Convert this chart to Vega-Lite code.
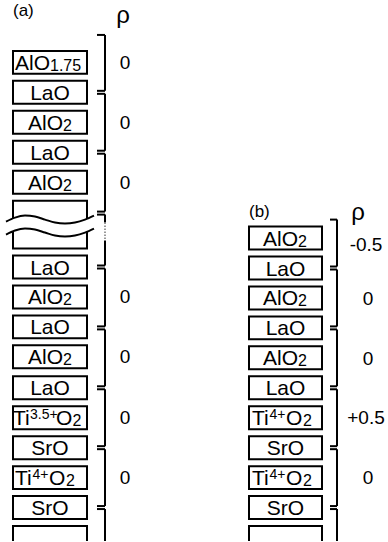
{
  "$schema": "https://vega.github.io/schema/vega-lite/v6.json",
  "width": 388,
  "height": 542,
  "autosize": {"type": "fit", "contains": "padding"},
  "padding": 0,
  "background": "white",
  "config": {"view": {"stroke": null}, "text": {"font": "Liberation Sans", "color": "black"}},
  "datasets": {
    "boxes": [
      {"panel": "a", "x": 13, "x2": 87, "y": 51, "y2": 74},
      {"panel": "a", "x": 13, "x2": 87, "y": 81, "y2": 104},
      {"panel": "a", "x": 13, "x2": 87, "y": 111, "y2": 134},
      {"panel": "a", "x": 13, "x2": 87, "y": 141, "y2": 164},
      {"panel": "a", "x": 13, "x2": 87, "y": 171, "y2": 194},
      {"panel": "a", "x": 13, "x2": 87, "y": 201, "y2": 249},
      {"panel": "a", "x": 13, "x2": 87, "y": 256, "y2": 279},
      {"panel": "a", "x": 13, "x2": 87, "y": 286, "y2": 309},
      {"panel": "a", "x": 13, "x2": 87, "y": 316, "y2": 339},
      {"panel": "a", "x": 13, "x2": 87, "y": 346, "y2": 369},
      {"panel": "a", "x": 13, "x2": 87, "y": 377, "y2": 400},
      {"panel": "a", "x": 13, "x2": 87, "y": 407, "y2": 430},
      {"panel": "a", "x": 13, "x2": 87, "y": 437, "y2": 460},
      {"panel": "a", "x": 13, "x2": 87, "y": 467, "y2": 490},
      {"panel": "a", "x": 13, "x2": 87, "y": 497, "y2": 520},
      {"panel": "a", "x": 13, "x2": 87, "y": 527, "y2": 560},
      {"panel": "b", "x": 249, "x2": 322, "y": 227, "y2": 250},
      {"panel": "b", "x": 249, "x2": 322, "y": 257, "y2": 280},
      {"panel": "b", "x": 249, "x2": 322, "y": 287, "y2": 310},
      {"panel": "b", "x": 249, "x2": 322, "y": 317, "y2": 340},
      {"panel": "b", "x": 249, "x2": 322, "y": 347, "y2": 370},
      {"panel": "b", "x": 249, "x2": 322, "y": 377, "y2": 400},
      {"panel": "b", "x": 249, "x2": 322, "y": 407, "y2": 430},
      {"panel": "b", "x": 249, "x2": 322, "y": 437, "y2": 460},
      {"panel": "b", "x": 249, "x2": 322, "y": 467, "y2": 490},
      {"panel": "b", "x": 249, "x2": 322, "y": 497, "y2": 520},
      {"panel": "b", "x": 249, "x2": 322, "y": 527, "y2": 560}
    ],
    "waves": [
      {"x": 6, "top": 222, "bottom": 235},
      {"x": 15, "top": 218, "bottom": 231},
      {"x": 25, "top": 216, "bottom": 229},
      {"x": 35, "top": 217, "bottom": 230},
      {"x": 45, "top": 220, "bottom": 233},
      {"x": 55, "top": 223, "bottom": 236},
      {"x": 65, "top": 224, "bottom": 237},
      {"x": 75, "top": 223, "bottom": 236},
      {"x": 85, "top": 220, "bottom": 233},
      {"x": 94, "top": 216, "bottom": 229}
    ],
    "ticks": [
      {"x": 97, "x2": 105, "y": 35},
      {"x": 97, "x2": 105, "y": 91},
      {"x": 97, "x2": 105, "y": 94},
      {"x": 97, "x2": 105, "y": 151},
      {"x": 97, "x2": 105, "y": 154},
      {"x": 97, "x2": 105, "y": 212},
      {"x": 97, "x2": 105, "y": 215},
      {"x": 97, "x2": 105, "y": 266},
      {"x": 97, "x2": 105, "y": 269},
      {"x": 97, "x2": 105, "y": 327},
      {"x": 97, "x2": 105, "y": 330},
      {"x": 97, "x2": 105, "y": 387},
      {"x": 97, "x2": 105, "y": 390},
      {"x": 97, "x2": 105, "y": 447},
      {"x": 97, "x2": 105, "y": 450},
      {"x": 97, "x2": 105, "y": 507},
      {"x": 97, "x2": 105, "y": 510},
      {"x": 330, "x2": 337, "y": 220},
      {"x": 330, "x2": 337, "y": 267},
      {"x": 330, "x2": 337, "y": 270},
      {"x": 330, "x2": 337, "y": 327},
      {"x": 330, "x2": 337, "y": 330},
      {"x": 330, "x2": 337, "y": 387},
      {"x": 330, "x2": 337, "y": 390},
      {"x": 330, "x2": 337, "y": 447},
      {"x": 330, "x2": 337, "y": 450},
      {"x": 330, "x2": 337, "y": 507},
      {"x": 330, "x2": 337, "y": 510}
    ],
    "verticals": [
      {"x": 105, "y": 35, "y2": 91, "style": "solid"},
      {"x": 105, "y": 94, "y2": 151, "style": "solid"},
      {"x": 105, "y": 154, "y2": 212, "style": "solid"},
      {"x": 105, "y": 215, "y2": 223, "style": "solid"},
      {"x": 105, "y": 223, "y2": 241, "style": "dotted"},
      {"x": 105, "y": 241, "y2": 266, "style": "solid"},
      {"x": 105, "y": 269, "y2": 327, "style": "solid"},
      {"x": 105, "y": 330, "y2": 387, "style": "solid"},
      {"x": 105, "y": 390, "y2": 447, "style": "solid"},
      {"x": 105, "y": 450, "y2": 507, "style": "solid"},
      {"x": 105, "y": 510, "y2": 542, "style": "solid"},
      {"x": 337, "y": 220, "y2": 267, "style": "solid"},
      {"x": 337, "y": 270, "y2": 327, "style": "solid"},
      {"x": 337, "y": 330, "y2": 387, "style": "solid"},
      {"x": 337, "y": 390, "y2": 447, "style": "solid"},
      {"x": 337, "y": 450, "y2": 507, "style": "solid"},
      {"x": 337, "y": 510, "y2": 542, "style": "solid"}
    ],
    "pieces": [
      {"t": "AlO", "kind": "ml", "x": 15, "y": 62.5},
      {"t": "1.75", "kind": "sub", "x": 50, "y": 62.5},
      {"t": "LaO", "kind": "mc", "x": 50, "y": 92.5},
      {"t": "AlO", "kind": "ml", "x": 28, "y": 122.5},
      {"t": "2", "kind": "sub", "x": 63, "y": 122.5},
      {"t": "LaO", "kind": "mc", "x": 50, "y": 152.5},
      {"t": "AlO", "kind": "ml", "x": 28, "y": 182.5},
      {"t": "2", "kind": "sub", "x": 63, "y": 182.5},
      {"t": "LaO", "kind": "mc", "x": 50, "y": 267.5},
      {"t": "AlO", "kind": "ml", "x": 28, "y": 297.5},
      {"t": "2", "kind": "sub", "x": 63, "y": 297.5},
      {"t": "LaO", "kind": "mc", "x": 50, "y": 327.5},
      {"t": "AlO", "kind": "ml", "x": 28, "y": 357.5},
      {"t": "2", "kind": "sub", "x": 63, "y": 357.5},
      {"t": "LaO", "kind": "mc", "x": 50, "y": 388.5},
      {"t": "Ti", "kind": "ml", "x": 13, "y": 418.5},
      {"t": "3.5+", "kind": "sup", "x": 30, "y": 418.5},
      {"t": "O", "kind": "ml", "x": 56, "y": 418.5},
      {"t": "2", "kind": "sub", "x": 72.5, "y": 418.5},
      {"t": "SrO", "kind": "mc", "x": 50, "y": 448.5},
      {"t": "Ti", "kind": "ml", "x": 15, "y": 478.5},
      {"t": "4+", "kind": "sup", "x": 32.5, "y": 478.5},
      {"t": "O", "kind": "ml", "x": 49, "y": 478.5},
      {"t": "2", "kind": "sub", "x": 66, "y": 478.5},
      {"t": "SrO", "kind": "mc", "x": 50, "y": 508.5},
      {"t": "AlO", "kind": "ml", "x": 263, "y": 238.5},
      {"t": "2", "kind": "sub", "x": 298, "y": 238.5},
      {"t": "LaO", "kind": "mc", "x": 285.5, "y": 268.5},
      {"t": "AlO", "kind": "ml", "x": 263, "y": 298.5},
      {"t": "2", "kind": "sub", "x": 298, "y": 298.5},
      {"t": "LaO", "kind": "mc", "x": 285.5, "y": 328.5},
      {"t": "AlO", "kind": "ml", "x": 263, "y": 358.5},
      {"t": "2", "kind": "sub", "x": 298, "y": 358.5},
      {"t": "LaO", "kind": "mc", "x": 285.5, "y": 388.5},
      {"t": "Ti", "kind": "ml", "x": 252, "y": 418.5},
      {"t": "4+", "kind": "sup", "x": 269.5, "y": 418.5},
      {"t": "O", "kind": "ml", "x": 286, "y": 418.5},
      {"t": "2", "kind": "sub", "x": 303, "y": 418.5},
      {"t": "SrO", "kind": "mc", "x": 285.5, "y": 448.5},
      {"t": "Ti", "kind": "ml", "x": 252, "y": 478.5},
      {"t": "4+", "kind": "sup", "x": 269.5, "y": 478.5},
      {"t": "O", "kind": "ml", "x": 286, "y": 478.5},
      {"t": "2", "kind": "sub", "x": 303, "y": 478.5},
      {"t": "SrO", "kind": "mc", "x": 285.5, "y": 508.5}
    ],
    "values": [
      {"t": "0", "x": 125, "y": 63},
      {"t": "0", "x": 125, "y": 123},
      {"t": "0", "x": 125, "y": 183},
      {"t": "0", "x": 125, "y": 298},
      {"t": "0", "x": 125, "y": 358},
      {"t": "0", "x": 125, "y": 419},
      {"t": "0", "x": 125, "y": 479},
      {"t": "-0.5", "x": 366, "y": 245},
      {"t": "0", "x": 368, "y": 300},
      {"t": "0", "x": 368, "y": 360},
      {"t": "+0.5", "x": 366, "y": 419},
      {"t": "0", "x": 368, "y": 479}
    ],
    "titles": [
      {"t": "(a)", "x": 13, "y": 11},
      {"t": "(b)", "x": 249, "y": 212}
    ],
    "rhos": [
      {"t": "ρ", "x": 123, "y": 16},
      {"t": "ρ", "x": 358, "y": 213}
    ]
  },
  "layer": [
    {
      "data": {"name": "boxes"},
      "mark": {"type": "rect", "fill": "white", "stroke": "black", "strokeWidth": 2, "clip": true},
      "encoding": {
        "x": {"field": "x", "type": "quantitative", "scale": {"domain": [0, 388], "nice": false, "zero": false}, "axis": null},
        "x2": {"field": "x2"},
        "y": {"field": "y", "type": "quantitative", "scale": {"domain": [0, 542], "nice": false, "zero": false, "reverse": true}, "axis": null},
        "y2": {"field": "y2"}
      }
    },
    {
      "data": {"name": "waves"},
      "mark": {"type": "area", "fill": "white", "interpolate": "monotone", "opacity": 1},
      "encoding": {
        "x": {"field": "x", "type": "quantitative"},
        "y": {"field": "top", "type": "quantitative"},
        "y2": {"field": "bottom"}
      }
    },
    {
      "data": {"name": "waves"},
      "mark": {"type": "line", "color": "black", "strokeWidth": 2, "interpolate": "monotone"},
      "encoding": {
        "x": {"field": "x", "type": "quantitative"},
        "y": {"field": "top", "type": "quantitative"}
      }
    },
    {
      "data": {"name": "waves"},
      "mark": {"type": "line", "color": "black", "strokeWidth": 2, "interpolate": "monotone"},
      "encoding": {
        "x": {"field": "x", "type": "quantitative"},
        "y": {"field": "bottom", "type": "quantitative"}
      }
    },
    {
      "data": {"name": "ticks"},
      "mark": {"type": "rule", "color": "black", "strokeWidth": 2},
      "encoding": {
        "x": {"field": "x", "type": "quantitative"},
        "x2": {"field": "x2"},
        "y": {"field": "y", "type": "quantitative"}
      }
    },
    {
      "data": {"name": "verticals"},
      "transform": [{"filter": "datum.style === 'solid'"}],
      "mark": {"type": "rule", "color": "black", "strokeWidth": 2},
      "encoding": {
        "x": {"field": "x", "type": "quantitative"},
        "y": {"field": "y", "type": "quantitative"},
        "y2": {"field": "y2"}
      }
    },
    {
      "data": {"name": "verticals"},
      "transform": [{"filter": "datum.style === 'dotted'"}],
      "mark": {"type": "rule", "color": "#777", "strokeWidth": 1.5, "strokeDash": [1.5, 1.5]},
      "encoding": {
        "x": {"field": "x", "type": "quantitative"},
        "y": {"field": "y", "type": "quantitative"},
        "y2": {"field": "y2"}
      }
    },
    {
      "data": {"name": "pieces"},
      "transform": [{"filter": "datum.kind === 'mc'"}],
      "mark": {"type": "text", "fontSize": 21, "align": "center", "baseline": "alphabetic", "dy": 7.5},
      "encoding": {
        "x": {"field": "x", "type": "quantitative"},
        "y": {"field": "y", "type": "quantitative"},
        "text": {"field": "t"}
      }
    },
    {
      "data": {"name": "pieces"},
      "transform": [{"filter": "datum.kind === 'ml'"}],
      "mark": {"type": "text", "fontSize": 21, "align": "left", "baseline": "alphabetic", "dy": 7.5},
      "encoding": {
        "x": {"field": "x", "type": "quantitative"},
        "y": {"field": "y", "type": "quantitative"},
        "text": {"field": "t"}
      }
    },
    {
      "data": {"name": "pieces"},
      "transform": [{"filter": "datum.kind === 'sub'"}],
      "mark": {"type": "text", "fontSize": 16, "align": "left", "baseline": "alphabetic", "dy": 8.5},
      "encoding": {
        "x": {"field": "x", "type": "quantitative"},
        "y": {"field": "y", "type": "quantitative"},
        "text": {"field": "t"}
      }
    },
    {
      "data": {"name": "pieces"},
      "transform": [{"filter": "datum.kind === 'sup'"}],
      "mark": {"type": "text", "fontSize": 14, "align": "left", "baseline": "alphabetic", "dy": 1},
      "encoding": {
        "x": {"field": "x", "type": "quantitative"},
        "y": {"field": "y", "type": "quantitative"},
        "text": {"field": "t"}
      }
    },
    {
      "data": {"name": "values"},
      "mark": {"type": "text", "fontSize": 19, "align": "center", "baseline": "middle"},
      "encoding": {
        "x": {"field": "x", "type": "quantitative"},
        "y": {"field": "y", "type": "quantitative"},
        "text": {"field": "t"}
      }
    },
    {
      "data": {"name": "titles"},
      "mark": {"type": "text", "fontSize": 17, "align": "left", "baseline": "middle"},
      "encoding": {
        "x": {"field": "x", "type": "quantitative"},
        "y": {"field": "y", "type": "quantitative"},
        "text": {"field": "t"}
      }
    },
    {
      "data": {"name": "rhos"},
      "mark": {"type": "text", "fontSize": 24, "align": "center", "baseline": "middle"},
      "encoding": {
        "x": {"field": "x", "type": "quantitative"},
        "y": {"field": "y", "type": "quantitative"},
        "text": {"field": "t"}
      }
    }
  ]
}
